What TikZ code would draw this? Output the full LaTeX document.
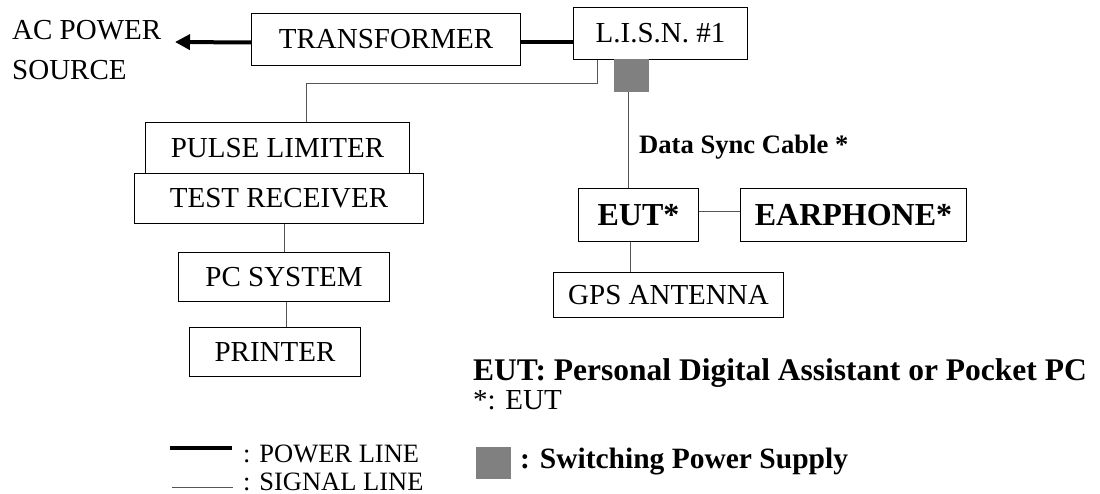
\documentclass[tikz,border=0pt]{standalone}
\usepackage{fontspec}
\setmainfont{Liberation Serif}
\usetikzlibrary{arrows.meta}
\definecolor{psgray}{HTML}{808080}
\definecolor{sigcol}{HTML}{555555}
\tikzset{
  box/.style={draw=black, line width=1pt, inner sep=0pt, anchor=north west,
    font=\fontsize{29}{34}\selectfont},
  bbox/.style={box, font=\fontsize{32}{38}\selectfont\bfseries},
  sig/.style={draw=sigcol, line width=1pt},
  power/.style={draw=black, line width=4pt},
  lbl/.style={inner sep=0pt, anchor=base west},
  psu/.style={fill=psgray, inner sep=0pt, anchor=north west},
}
\begin{document}
\begin{tikzpicture}[x=1pt,y=-1pt]
\useasboundingbox (0,0) rectangle (1100,494);
% top row
\node[lbl, font=\fontsize{29}{34}\selectfont] (ac1) at (12,40) {AC POWER};
\node[lbl, font=\fontsize{29}{34}\selectfont] (ac2) at (12,80) {SOURCE};
\coordinate (acend) at (175,42);
\node[box, minimum width=269pt, minimum height=52pt] (trans) at (251,13) {TRANSFORMER};
\node[box, minimum width=174pt, minimum height=52pt] (lisn) at (573,7) {L.I.S.N. \#1};
\node[psu, minimum width=35pt, minimum height=33pt] (sq) at (614,59) {};
\draw[power, -{Triangle[length=15pt, width=15pt]}] ([yshift=-3pt]trans.west) -- (acend);
\draw[power] ([yshift=-3pt]trans.east) -- ([yshift=-3pt]trans.east -| lisn.west);
% left chain
\node[box, minimum width=264pt, minimum height=51pt] (pl) at (145,122) {PULSE LIMITER};
\node[box, minimum width=289pt, minimum height=50pt] (tr) at (134,173) {TEST RECEIVER};
\node[box, minimum width=211pt, minimum height=49pt] (pc) at (178,252) {PC SYSTEM};
\node[box, minimum width=171pt, minimum height=49pt] (prn) at (189,327) {PRINTER};
\draw[sig] ([xshift=-63pt]lisn.south) -- ++(0,24) -| ([xshift=29pt]pl.north);
\draw[sig] (pc.north) -- (pc.north |- tr.south);
\draw[sig] ([xshift=2pt]pc.south) -- ([xshift=2pt]pc.south |- prn.north);
% right chain
\node[lbl, font=\fontsize{26.6}{32}\selectfont\bfseries] (dsc) at (639,154) {Data Sync Cable *};
\node[bbox, minimum width=120pt, minimum height=53pt] (eut) at (578,188) {EUT*};
\node[bbox, minimum width=226pt, minimum height=53pt] (ear) at (740,188) {EARPHONE*};
\node[box, minimum width=230pt, minimum height=45pt] (gps) at (553,272) {GPS ANTENNA};
\draw[sig] ([xshift=-3.5pt]sq.south) -- ([xshift=-3.5pt]sq.south |- eut.north);
\draw[sig] ([yshift=3pt]eut.east) -- ([yshift=3pt]eut.east -| ear.west);
\draw[sig] ([xshift=-8pt]eut.south) -- ([xshift=-8pt]eut.south |- gps.north);
% notes
\node[lbl, font=\fontsize{31.5}{36}\selectfont\bfseries] (note1) at (473,380) {EUT: Personal Digital Assistant or Pocket PC};
\node[lbl, font=\fontsize{29}{34}\selectfont] (note2) at (473,409) {*: EUT};
\node[psu, minimum width=35pt, minimum height=32pt] (lsq) at (476,447) {};
\node[lbl, font=\fontsize{29.5}{34}\selectfont\bfseries] (note3) at (520,468) {: Switching Power Supply};
% legend
\coordinate (pwa) at (170,448);
\coordinate (pwb) at (232,448);
\draw[power] (pwa) -- (pwb);
\node[lbl, font=\fontsize{26.5}{32}\selectfont] (pwl) at (243,462) {: POWER LINE};
\coordinate (sga) at (172,487);
\coordinate (sgb) at (233,487);
\draw[sig] (sga) -- (sgb);
\node[lbl, font=\fontsize{26.5}{32}\selectfont] (sgl) at (243,490) {: SIGNAL LINE};
\end{tikzpicture}
\end{document}
